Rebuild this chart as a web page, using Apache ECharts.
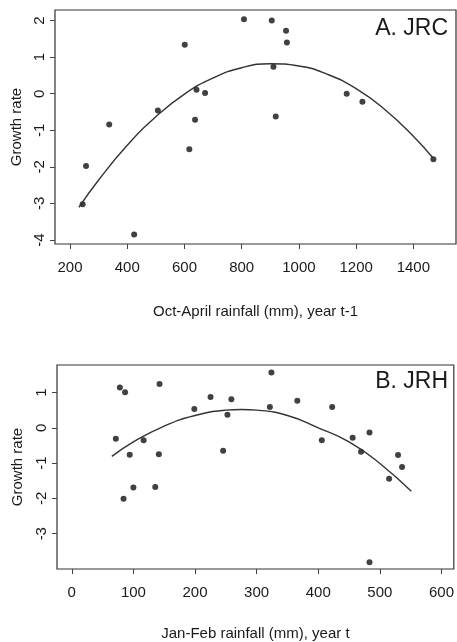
<!DOCTYPE html>
<html>
<head>
<meta charset="utf-8">
<script src="https://cdn.jsdelivr.net/npm/echarts@6/dist/echarts.min.js"></script>
<style>
html,body{margin:0;padding:0;background:#fff;}
#c{width:457px;height:642px;}
</style>
</head>
<body>
<div id="c"></div>
<script>
// Panel A (JRC)
const topX = [244,256,337,424,507,601,617,637,642,672,808,905,955,958,911,919,1167,1222,1470];
const topY = [-3.02,-1.98,-0.84,-3.85,-0.46,1.34,-1.52,-0.71,0.11,0.02,2.04,2.00,1.72,1.40,0.74,-0.62,0.00,-0.22,-1.79];
const topCurveX = [231,300,400,500,600,700,800,900,1000,1100,1200,1300,1400,1470];
const topCurveY = [-3.11,-2.36,-1.41,-0.63,-0.01,0.43,0.71,0.82,0.76,0.53,0.14,-0.43,-1.16,-1.77];
const topXTicks = [200,400,600,800,1000,1200,1400];
const topYTicks = [-4,-3,-2,-1,0,1,2];

// Panel B (JRH)
const botX = [71.5,78,86.5,84,94,100,116.6,135.5,141.3,142.4,198.9,225.2,245.6,252.6,259,324,321.5,366,405.8,422.6,455.8,469.4,483.2,483.2,515,529.5,536];
const botY = [-0.31,1.14,1.01,-2.01,-0.76,-1.69,-0.35,-1.68,-0.75,1.24,0.53,0.87,-0.65,0.37,0.81,1.57,0.59,0.77,-0.35,0.59,-0.28,-0.68,-0.13,-3.81,-1.44,-0.77,-1.11];
const botCurveX = [65,100,150,200,250,275,300,350,400,450,500,551];
const botCurveY = [-0.81,-0.40,0.05,0.35,0.50,0.52,0.50,0.35,0.00,-0.40,-1.01,-1.80];
const botXTicks = [0,100,200,300,400,500,600];
const botYTicks = [-3,-2,-1,0,1];

const FONT = '"Liberation Sans", Arial, Helvetica, sans-serif';
const INK = '#1a1a1a';

function zip(a,b){return a.map((v,i)=>[v,b[i]]);}
const plain = v => String(v);

function xAxis(gi, min, max, ticks, name, gap){
  return {
    type:'value', gridIndex:gi, min:min, max:max,
    name:name, nameLocation:'middle', nameGap:gap,
    nameTextStyle:{fontFamily:FONT, fontSize:15, color:INK},
    axisLine:{show:false, onZero:false},
    axisTick:{show:true, inside:false, length:5, customValues:ticks, lineStyle:{color:'#444', width:1}},
    axisLabel:{show:true, customValues:ticks, formatter:plain, margin:16, fontFamily:FONT, fontSize:15, color:INK},
    splitLine:{show:false}
  };
}
function yAxis(gi, min, max, ticks, gap){
  return {
    type:'value', gridIndex:gi, min:min, max:max,
    name:'Growth rate', nameLocation:'middle', nameGap:gap, nameRotate:90,
    nameTextStyle:{fontFamily:FONT, fontSize:15, color:INK},
    axisLine:{show:false, onZero:false},
    axisTick:{show:true, inside:false, length:5, customValues:ticks, lineStyle:{color:'#444', width:1}},
    axisLabel:{show:true, customValues:ticks, formatter:plain, rotate:90, margin:8, fontFamily:FONT, fontSize:15, color:INK},
    splitLine:{show:false}
  };
}

const chart = echarts.init(document.getElementById('c'), null, {renderer:'canvas'});
chart.setOption({
  backgroundColor:'#fff',
  animation:false,
  grid:[
    {left:55, top:10, width:401, height:234, show:true, borderColor:'#333', borderWidth:1.2, backgroundColor:'transparent'},
    {left:57, top:365, width:399, height:204, show:true, borderColor:'#333', borderWidth:1.2, backgroundColor:'transparent'}
  ],
  xAxis:[
    xAxis(0, 147.5, 1549, topXTicks, 'Oct-April rainfall (mm), year t-1', 60),
    xAxis(1, -24, 620, botXTicks, 'Jan-Feb rainfall (mm), year t', 57)
  ],
  yAxis:[
    yAxis(0, -4.11, 2.29, topYTicks, 30),
    yAxis(1, -4.0, 1.78, botYTicks, 32)
  ],
  graphic:[
    {type:'text', x:448, y:29, style:{text:'A. JRC', fontFamily:FONT, fontSize:23, fill:INK, textAlign:'right', textVerticalAlign:'middle'}},
    {type:'text', x:448, y:382, style:{text:'B. JRH', fontFamily:FONT, fontSize:23, fill:INK, textAlign:'right', textVerticalAlign:'middle'}}
  ],
  series:[
    {type:'line', xAxisIndex:0, yAxisIndex:0, data:zip(topCurveX, topCurveY), smooth:true, showSymbol:false, lineStyle:{color:'#333', width:1.4}},
    {type:'scatter', xAxisIndex:0, yAxisIndex:0, data:zip(topX, topY), symbol:'circle', symbolSize:6, itemStyle:{color:'#111'}},
    {type:'line', xAxisIndex:1, yAxisIndex:1, data:zip(botCurveX, botCurveY), smooth:true, showSymbol:false, lineStyle:{color:'#333', width:1.4}},
    {type:'scatter', xAxisIndex:1, yAxisIndex:1, data:zip(botX, botY), symbol:'circle', symbolSize:6, itemStyle:{color:'#111'}}
  ]
});
</script>
</body>
</html>
